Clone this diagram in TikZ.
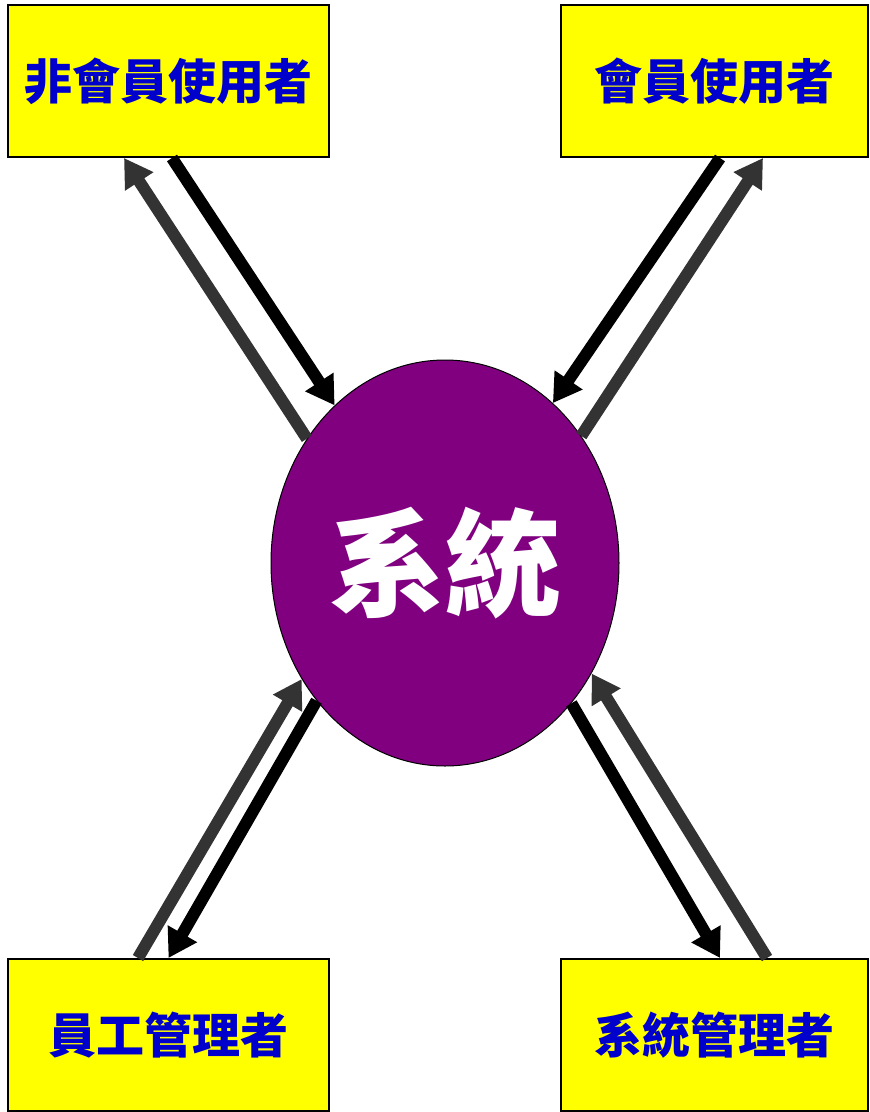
\documentclass[tikz,border=0pt]{standalone}
\usepackage{fontspec}
\usepackage{xcolor}
\usepackage{tikz}
\usetikzlibrary{arrows.meta,shapes.geometric}
\newfontfamily\cjk{Noto Sans CJK TC}
\definecolor{boxyellow}{HTML}{FFFF00}
\definecolor{sysviolet}{HTML}{800080}
\definecolor{labelblue}{HTML}{0000CC}
\definecolor{darkgrey}{HTML}{333333}
\tikzset{
  userbox/.style={draw=black, line width=2pt, fill=boxyellow, minimum height=152pt, inner sep=0pt, font=\cjk\bfseries\fontsize{48}{52}\selectfont, text=labelblue},
  sysnode/.style={ellipse, draw=black, line width=1pt, fill=sysviolet, minimum width=348pt, minimum height=406pt, inner sep=0pt, font=\cjk\bfseries\fontsize{116}{120}\selectfont, text=white},
  toarrow/.style={line width=12pt, draw=black, -{Triangle[width=32pt,length=28pt]}},
  backarrow/.style={line width=12pt, draw=darkgrey, -{Triangle[width=32pt,length=28pt]}}
}
\begin{document}
\begin{tikzpicture}[x=1pt,y=-1pt]
\useasboundingbox (0,0) rectangle (870,1112);
% the four kinds of users
\node[userbox, minimum width=321pt] (guest) at (168.5,81) {非會員使用者};
\node[userbox, minimum width=307pt] (member) at (714.5,81) {會員使用者};
\node[userbox, minimum width=321pt] (staff) at (168.5,1035) {員工管理者};
\node[userbox, minimum width=307pt] (admin) at (714.5,1035) {系統管理者};
% the system
\node[sysnode] (sys) at (445,563) {系統};
% requests and replies
\draw[toarrow] ([xshift=3.5pt]guest.south) -- (sys.125.7);
\draw[backarrow] (sys.138.7) -- ([xshift=-44.5pt]guest.south);
\draw[toarrow] ([xshift=5.5pt]member.south) -- (sys.56.9);
\draw[backarrow] (sys.43.9) -- ([xshift=48.5pt]member.south);
\draw[toarrow] (sys.227.4) -- (staff.north);
\draw[backarrow] ([xshift=-30.5pt]staff.north) -- (sys.219);
\draw[toarrow] (sys.312) -- ([xshift=5.5pt]admin.north);
\draw[backarrow] ([xshift=52.5pt]admin.north) -- (sys.323);
\end{tikzpicture}
\end{document}
